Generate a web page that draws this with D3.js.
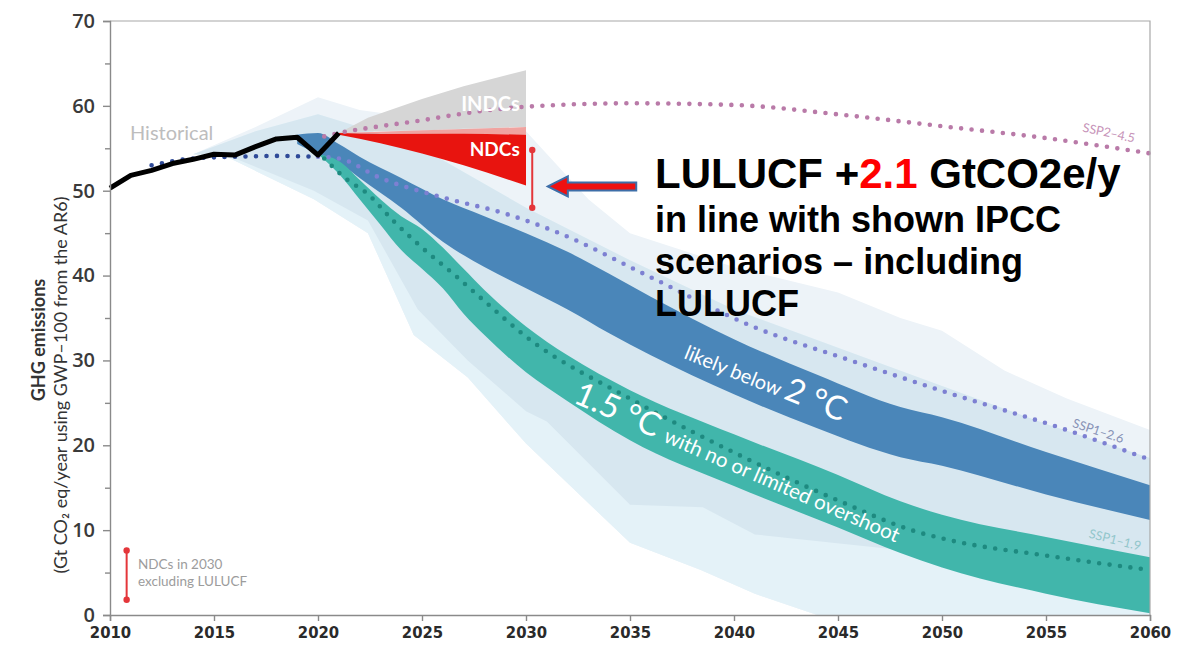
<!DOCTYPE html>
<html lang="en">
<head>
<meta charset="utf-8">
<script src="https://d3js.org/d3.v7.min.js"></script>
<style>
  body { margin: 0; background: #fff; }
  svg { display: block; }
</style>
</head>
<body>
<div id="chart"></div>
<script>
// ---- data (Gt CO2e / year) ----
const historical = [[2010,50.3],[2011,51.8],[2012,52.4],[2013,53.2],[2014,53.7],[2015,54.3],[2016,54.2],[2017,55.2],[2018,56.1],[2019,56.3],[2020,54.2],[2021,56.8]];

// [year, top, bottom]
const band2C = [[2019,56.6,55.5],[2020,56.8,54.3],[2021,55.5,53.3],[2022,54,51.5],[2024,51.5,48],[2026,49,44],[2028,47,41],[2030,45,38.5],[2032,42.8,36],[2034,40.2,33.2],[2036,37.5,30.6],[2040,32.5,26],[2044,28.3,22],[2048,24.5,18.6],[2050,23.3,17.6],[2055,19.2,14.2],[2060,15.3,11.2]];
const band15C = [[2020,54.3,54.3],[2021,53.5,52],[2022,51.3,49],[2023,49,46],[2024,47,43],[2025,45.5,40.8],[2026,43.3,38.5],[2027,40.8,35.5],[2028,38.3,33],[2030,34,28.6],[2032,30.6,25.2],[2035,26.5,20.6],[2040,21.3,15.2],[2045,16.5,10.3],[2048,13.4,7.3],[2050,11.8,5.6],[2055,9.2,2.5],[2060,6.8,0.2]];

// pale ranges (edges)
const range2CTop = [[2014,54.3],[2017,57.5],[2020,61],[2022,59.5],[2025,58.5],[2030,57],[2033,49],[2035,45],[2040,41],[2045,38],[2048,35],[2050,33.5],[2053,28.8],[2056,25.5],[2060,21.8]];
const midTop = [[2014,54.3],[2017,57],[2020,59],[2022,57.5],[2025,55],[2030,48],[2035,41.8],[2040,36],[2045,31.5],[2050,27],[2055,22.5],[2060,18.5]];
const midBottom = [[2014,54.3],[2015.6,54.2],[2019.8,50],[2022.4,46.5],[2024.8,36],[2027.2,30],[2030,24],[2031,22.8],[2035,13],[2038.5,12.7],[2041,9.5],[2050.5,7],[2055,4.5],[2060,2.5]];
const outerBottom = [[2014,54.3],[2015.6,54],[2019.8,49],[2022.4,45],[2024.6,33],[2027.2,28],[2030,20.2],[2035,8.5],[2038.4,5.3],[2041,2.5],[2044,0],[2060,0]];

// pledges
const indc = [[2021,56.8,56.8],[2022.4,58.6,57],[2025,60.8,57.1],[2027,62.3,57.3],[2030,64.2,57.5]];
const ndcUpper = [[2021,56.8,56.8],[2030,57.5,56.6]];
const ndc = [[2021,56.8,56.6],[2023,56.7,55.6],[2025,56.7,54.4],[2027,56.7,53],[2030,56.6,50.6]];
const ndcExLulucf = [2030.3, 48, 54.8];
const legendBar = [2010.8, 1.8, 7.6];

// SSP pathways
const ssp245 = [[2020.3,56.4],[2021,56.8],[2023,57.6],[2025,58.3],[2027,59.1],[2030,59.9],[2035,60.3],[2040,60.1],[2045,59],[2050,57.6],[2055,56.2],[2060,54.4]];
const ssp126Past = [[2012,53],[2014,53.8],[2016,54],[2018,54.1],[2020,54]];
const ssp126 = [[2020,54],[2021,53.8],[2023,51.5],[2026,49.2],[2029,47.3],[2031.6,45],[2036,39.8],[2041,33.9],[2045.6,30],[2050.4,26.1],[2056,21.8],[2060,18.3]];
const ssp119 = [[2020.3,53.8],[2021.3,51.5],[2022.4,49.6],[2023.6,46.5],[2025,43.3],[2026.6,40],[2028,37],[2030,32.8],[2035,25.5],[2040.8,18.2],[2045,13.5],[2048.8,9.8],[2050.4,8.8],[2055,7],[2060,5.3]];

const xTicks = d3.range(2010, 2061, 5);
const yTicks = d3.range(0, 71, 10);
const yMinor = d3.range(5, 70, 10);

// ---- layout ----
const width = 1191, height = 647;
const x = d3.scaleLinear().domain([2010, 2060]).range([110, 1150]);
const y = d3.scaleLinear().domain([0, 70]).range([615, 21]);

const svg = d3.select("#chart").append("svg")
  .attr("width", width).attr("height", height);

const line = d3.line().x(d => x(d[0])).y(d => y(d[1]));
const smooth = d3.line().x(d => x(d[0])).y(d => y(d[1])).curve(d3.curveMonotoneX);
const area = d3.area().x(d => x(d[0])).y1(d => y(d[1])).y0(d => y(d[2]));
const smoothArea = d3.area().x(d => x(d[0])).y1(d => y(d[1])).y0(d => y(d[2])).curve(d3.curveMonotoneX);

function polygon(top, bottom) {
  return line(top.concat(bottom.slice().reverse())) + "Z";
}

// pale ranges
svg.append("path").attr("d", polygon(range2CTop, outerBottom)).attr("fill", "#edf3f8");
svg.append("path").attr("d", polygon(midTop, outerBottom)).attr("fill", "#e4f2f8");
svg.append("path").attr("d", polygon(midTop, midBottom)).attr("fill", "#d7e7f0");

// pledge wedges
svg.append("path").attr("d", area(indc)).attr("fill", "#d6d6d6");
svg.append("path").attr("d", area(ndcUpper)).attr("fill", "#f0a3a0");
svg.append("path").attr("d", smoothArea(ndc)).attr("fill", "#e8140f");

// scenario bands
svg.append("path").attr("d", smoothArea(band2C)).attr("fill", "#4a86b9");
svg.append("path").attr("d", smoothArea(band15C)).attr("fill", "#41b6ab");

// dotted pathways
function dotted(data, color) {
  svg.append("path").attr("d", smooth(data))
    .attr("fill", "none").attr("stroke", color)
    .attr("stroke-width", 4.6).attr("stroke-linecap", "round")
    .attr("stroke-dasharray", "0,10.5");
}
dotted(ssp245, "#b97aa8");
dotted(ssp126Past, "#2e4a98");
dotted(ssp126, "#7d80d2");
dotted(ssp119, "#1e8a80");

// historical
svg.append("path").attr("d", line(historical))
  .attr("fill", "none").attr("stroke", "#000")
  .attr("stroke-width", 5).attr("stroke-linejoin", "round");

// red range markers
function rangeBar(d) {
  const g = svg.append("g").attr("fill", "#e4363a").attr("stroke", "#e4363a");
  g.append("line").attr("x1", x(d[0])).attr("x2", x(d[0]))
    .attr("y1", y(d[1])).attr("y2", y(d[2])).attr("stroke-width", 2);
  g.selectAll("circle").data([d[1], d[2]]).join("circle")
    .attr("cx", x(d[0])).attr("cy", v => y(v)).attr("r", 3.2).attr("stroke", "none");
}
rangeBar(ndcExLulucf);
rangeBar(legendBar);

// frame
svg.append("path")
  .attr("d", `M${x(2010)},${y(70)}H${x(2060)}V${y(0)}`)
  .attr("fill", "none").attr("stroke", "#a8a8a8").attr("stroke-width", 1.2);

// axes
const yAxis = svg.append("g").attr("transform", `translate(${x(2010)},0)`)
  .call(d3.axisLeft(y).tickValues(yTicks).tickSize(7).tickPadding(8));
yAxis.selectAll(".tick text").style("font-family", "'Open Sans', sans-serif")
  .style("font-size", "20px").style("font-weight", 600).attr("fill", "#3a3a3a");
svg.append("g").attr("transform", `translate(${x(2010)},0)`)
  .call(d3.axisLeft(y).tickValues(yMinor).tickSize(5).tickFormat(""))
  .call(g => g.select(".domain").remove());

const xAxis = svg.append("g").attr("transform", `translate(0,${y(0)})`)
  .call(d3.axisBottom(x).tickValues(xTicks).tickFormat(d3.format("d")).tickSize(6).tickPadding(5));
xAxis.selectAll(".tick text").style("font-family", "'DejaVu Sans Condensed', 'DejaVu Sans', sans-serif")
  .style("font-size", "16.5px").style("font-weight", 700).attr("fill", "#2a2a2a");

svg.selectAll(".domain, .tick line").attr("stroke", "#8a8a8a").attr("stroke-width", 1.4);

// axis title
const yt = svg.append("g").style("font-family", "Lato, sans-serif").attr("fill", "#333");
yt.append("text").attr("transform", "translate(45,340) rotate(-90)")
  .attr("text-anchor", "middle").style("font-size", "18px").style("font-weight", 700)
  .text("GHG emissions");
yt.append("text").attr("transform", "translate(67,385) rotate(-90)")
  .attr("text-anchor", "middle").style("font-size", "18px")
  .text("(Gt CO\u2082 eq/year using GWP\u2013100 from the AR6)");

// chart labels
const lab = svg.append("g").style("font-family", "Lato, sans-serif");
lab.append("text").attr("x", 130).attr("y", 140).attr("fill", "#bdbdbd")
  .style("font-size", "20px").text("Historical");
lab.append("text").attr("x", x(2029.7)).attr("y", y(59.4)).attr("text-anchor", "end")
  .attr("fill", "#fff").style("font-size", "20px").style("font-weight", 700).text("INDCs");
lab.append("text").attr("x", x(2029.7)).attr("y", y(54.1)).attr("text-anchor", "end")
  .attr("fill", "#fff").style("font-size", "19px").style("font-weight", 700).text("NDCs");

lab.append("text").attr("x", 138).attr("y", 569).attr("fill", "#9c9c9c")
  .style("font-size", "13.5px").text("NDCs in 2030");
lab.append("text").attr("x", 138).attr("y", 586).attr("fill", "#9c9c9c")
  .style("font-size", "13.5px").text("excluding LULUCF");

function ssp(t, cx, cy, ang, color) {
  lab.append("text").attr("transform", `translate(${cx},${cy}) rotate(${ang})`)
    .attr("text-anchor", "middle").attr("fill", color).style("font-size", "12.5px").text(t);
}
ssp("SSP2\u20134.5", 1108, 137, 12, "#c692b8");
ssp("SSP1\u20132.6", 1097, 435, 18, "#8792b6");
ssp("SSP1\u20131.9", 1114, 544, 14, "#92c6cb");

const t2 = lab.append("text").attr("transform", "translate(683,358) rotate(22)").attr("fill", "#fff");
t2.append("tspan").style("font-size", "20px").text("likely below ");
t2.append("tspan").style("font-size", "33px").text("2 \u00b0C");

const t15 = lab.append("text").attr("transform", "translate(572,402) rotate(23.5)").attr("fill", "#fff");
t15.append("tspan").style("font-size", "33px").text("1.5 \u00b0C ");
t15.append("tspan").style("font-size", "20.5px").text("with no or limited overshoot");

// arrow
const ax0 = x(2031.05), ax1 = x(2035.3), ay = y(50.5);
svg.append("path")
  .attr("d", `M${ax0},${ay} L${ax0 + 20},${ay - 10} L${ax0 + 20},${ay - 4} L${ax1},${ay - 4} L${ax1},${ay + 4} L${ax0 + 20},${ay + 4} L${ax0 + 20},${ay + 10} Z`)
  .attr("fill", "#ee1111").attr("stroke", "#3d6ea8").attr("stroke-width", 2);

// overlay message
const msg = svg.append("g").style("font-family", "'Liberation Sans', Arial, sans-serif")
  .style("font-weight", 700).attr("fill", "#000");
const l1 = msg.append("text").attr("x", 655).attr("y", 188).style("font-size", "42px");
l1.append("tspan").text("LULUCF +");
l1.append("tspan").attr("fill", "#ff0000").text("2.1");
l1.append("tspan").text(" GtCO2e/y");
["in line with shown IPCC", "scenarios \u2013 including", "LULUCF"].forEach((t, i) => {
  msg.append("text").attr("x", 655).attr("y", 232 + i * 42).style("font-size", "36px").text(t);
});
</script>
</body>
</html>
